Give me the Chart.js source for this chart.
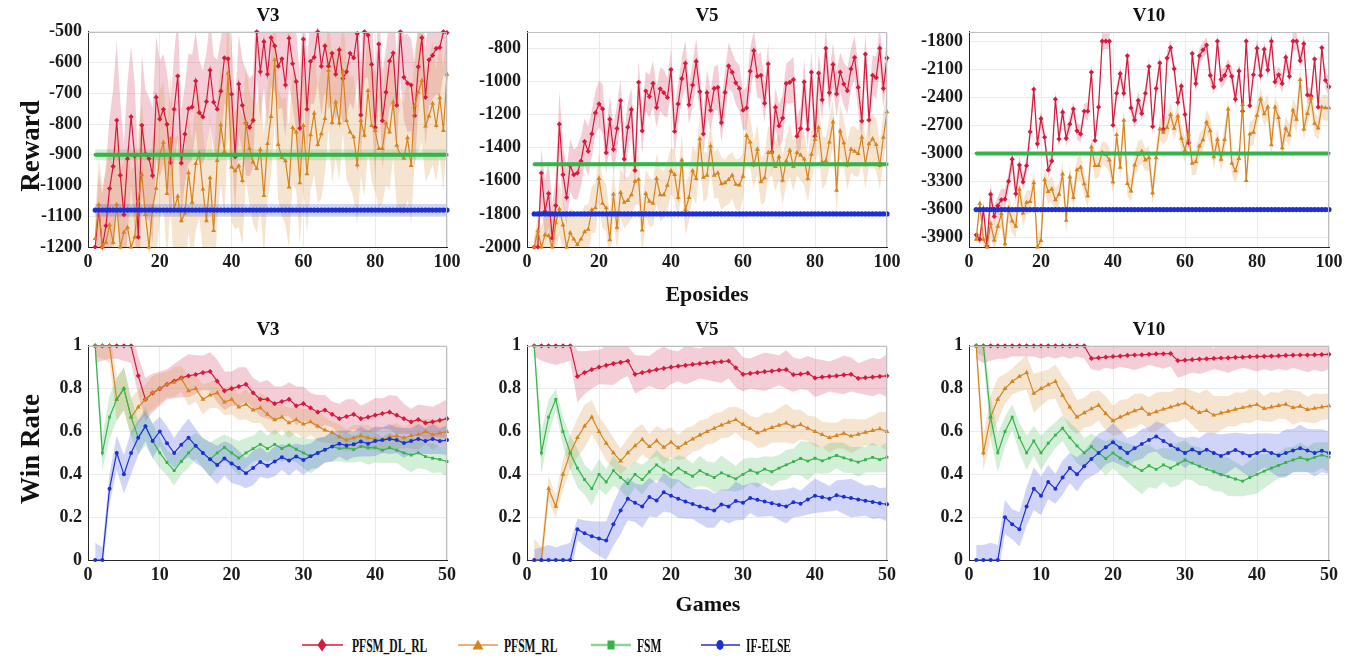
<!DOCTYPE html>
<html>
<head>
<meta charset="utf-8">
<script src="https://cdn.jsdelivr.net/npm/chart.js@4.4.1/dist/chart.umd.min.js"></script>
<style>
  body { margin: 0; background: #fff; width: 1365px; height: 660px; position: relative; overflow: hidden;
         font-family: 'Liberation Serif', 'Times New Roman', serif; font-weight: bold; color: #111; }
  canvas { position: absolute; }
  .t { position: absolute; transform: translate(-50%, -50%); white-space: nowrap; line-height: 1; }
  .ttl { font-size: 19px; }
  .ylab { font-size: 27px; }
  .xlab { font-size: 22px; }
  .leg { position: absolute; font-size: 19px; line-height: 1; white-space: nowrap;
         transform: translateY(-50%) scaleX(0.61); transform-origin: left center; }
</style>
</head>
<body>

<canvas id="rV3" width="459" height="267" style="left:8px;top:15px"></canvas>
<canvas id="rV5" width="460" height="267" style="left:447px;top:15px"></canvas>
<canvas id="rV10" width="460" height="267" style="left:889px;top:15px"></canvas>
<canvas id="wV3" width="459" height="266" style="left:8px;top:329px"></canvas>
<canvas id="wV5" width="460" height="266" style="left:447px;top:329px"></canvas>
<canvas id="wV10" width="460" height="266" style="left:889px;top:329px"></canvas>

<div class="t ttl" style="left:268px;top:14px">V3</div>
<div class="t ttl" style="left:707px;top:14px">V5</div>
<div class="t ttl" style="left:1149px;top:14px">V10</div>
<div class="t ttl" style="left:268px;top:328px">V3</div>
<div class="t ttl" style="left:707px;top:328px">V5</div>
<div class="t ttl" style="left:1149px;top:328px">V10</div>

<div class="t ylab" style="left:30px;top:146px;transform:translate(-50%,-50%) rotate(-90deg)">Reward</div>
<div class="t ylab" style="left:30px;top:449px;transform:translate(-50%,-50%) rotate(-90deg)">Win Rate</div>
<div class="t xlab" style="left:707px;top:294px">Eposides</div>
<div class="t xlab" style="left:708px;top:604px">Games</div>

<svg style="position:absolute;left:0;top:630px" width="1365" height="30">
  <line x1="302" y1="15" x2="343" y2="15" stroke="#d6193c" stroke-width="1.5"/>
  <polygon points="322,8.5 326.5,15 322,21.5 317.5,15" fill="#d6193c"/>
  <line x1="458" y1="15" x2="498" y2="15" stroke="#e6b377" stroke-width="2"/>
  <polygon points="478,9.5 483.5,19.5 472.5,19.5" fill="#d5841f"/>
  <line x1="591" y1="15" x2="631" y2="15" stroke="#8ad594" stroke-width="2.5"/>
  <rect x="607.5" y="10.5" width="7" height="9" fill="#37b34a"/>
  <line x1="701" y1="15" x2="740" y2="15" stroke="#1c30d4" stroke-width="1.5"/>
  <ellipse cx="720" cy="15" rx="3.6" ry="5" fill="#1c30d4"/>
</svg>
<div class="leg" style="left:352px;top:645px">PFSM_DL_RL</div>
<div class="leg" style="left:504px;top:645px">PFSM_RL</div>
<div class="leg" style="left:637px;top:645px">FSM</div>
<div class="leg" style="left:746px;top:645px">IF-ELSE</div>

<script>
// ---- axes / categories ----
const topEpisodes = [];
for (let e = 2; e <= 100; e++) topEpisodes.push(e);
const games = [];
for (let g = 1; g <= 50; g++) games.push(g);

const topXTicks = [0, 20, 40, 60, 80, 100];
const bottomXTicks = [0, 10, 20, 30, 40, 50];
const winRateTicks = [0, 0.2, 0.4, 0.6, 0.8, 1];
const rewardTicksV3 = [-1200, -1100, -1000, -900, -800, -700, -600, -500];
const rewardTicksV5 = [-2000, -1800, -1600, -1400, -1200, -1000, -800];
const rewardTicksV10 = [-3900, -3600, -3300, -3000, -2700, -2400, -2100, -1800];
const rewardRangeV3 = [-1200, -500];
const rewardRangeV5 = [-2000, -700];
const rewardRangeV10 = [-4000, -1700];

// ---- reward, episodes 2..100 ----
const dlrlRewardV3 = [-1200,-1079,-1200,-1131,-1010,-938,-788,-967,-1095,
  -913,-776,-904,-1168,-804,-898,-913,-968,-713,-784,
  -752,-801,-925,-752,-644,-927,-833,-750,-745,-660,
  -763,-777,-727,-625,-729,-752,-693,-585,-588,-703,
  -906,-670,-739,-797,-811,-788,-500,-630,-532,-638,
  -519,-546,-612,-588,-673,-521,-604,-662,-814,-524,
  -752,-596,-583,-500,-612,-546,-612,-570,-638,-559,
  -652,-630,-570,-585,-506,-771,-500,-511,-606,-811,
  -540,-789,-697,-595,-569,-739,-500,-648,-667,-673,
  -773,-614,-519,-713,-591,-577,-554,-551,-500,-503];
const dlrlRewardSpreadV3 = [60,120,170,200,230,250,260,240,230,
  250,230,240,220,230,210,200,220,200,190,
  180,170,190,180,200,170,160,180,170,160,
  170,150,160,170,150,160,170,150,160,170,
  180,160,150,170,160,150,140,160,150,170,
  160,150,140,160,170,150,140,160,170,150,
  160,140,150,170,160,150,140,160,150,170,
  150,140,160,170,150,160,150,140,160,170,
  150,160,140,150,170,160,150,140,160,150,
  170,150,140,160,150,140,150,160,140,150];
const rlRewardV3 = [-1173,-1062,-1200,-1185,-1128,-1185,-1062,-1200,-1152,
  -1136,-1200,-1168,-1049,-965,-1095,-1200,-1070,-1009,-901,
  -860,-1026,-848,-1077,-1035,-1115,-1090,-959,-1055,-929,
  -895,-1012,-1115,-975,-1147,-919,-803,-890,-634,-940,
  -952,-936,-984,-795,-880,-924,-945,-884,-1033,-864,
  -776,-591,-867,-909,-920,-1005,-812,-826,-991,-805,
  -962,-835,-765,-867,-832,-782,-625,-795,-729,-797,
  -627,-789,-826,-842,-933,-789,-837,-691,-805,-821,
  -880,-880,-797,-826,-729,-869,-901,-912,-845,-935,
  -740,-697,-659,-807,-774,-733,-805,-715,-821,-638];
const rlRewardSpreadV3 = [80,150,200,230,250,240,260,250,230,
  240,250,230,220,240,230,250,220,230,210,
  200,220,210,230,200,220,210,190,200,220,
  210,200,190,210,220,200,190,210,200,180,
  190,200,210,190,180,200,210,190,200,180,
  190,200,180,190,210,200,180,190,200,210,
  190,180,200,190,210,180,190,200,180,190,
  200,190,180,200,190,180,200,190,180,200,
  190,180,200,190,180,200,190,180,200,190,
  180,190,200,180,190,200,180,190,200,180];

const dlrlRewardV5 = [-2000,-2000,-1553,-1784,-1677,-1947,-1750,-1258,-1563,
  -1701,-1508,-1563,-1553,-1481,-1363,-1422,-1317,-1190,-1136,
  -1166,-1430,-1229,-1410,-1284,-1115,-1469,-1276,-1170,-1538,
  -1005,-1298,-1058,-1091,-1012,-1158,-1044,-1068,-1097,-928,
  -1302,-1136,-983,-890,-1140,-1022,-879,-1062,-1317,-1068,
  -1174,-1042,-1036,-1249,-1066,-906,-944,-1008,-1042,-1174,
  -1160,-938,-814,-969,-963,-1131,-894,-1426,-1156,-1268,
  -1221,-1012,-1005,-989,-1331,-1284,-1003,-1288,-944,-1331,
  -950,-1111,-800,-1068,-898,-1075,-944,-1016,-1056,-924,
  -855,-1036,-1239,-835,-1233,-963,-977,-800,-1042,-859];
const dlrlRewardSpreadV5 = [60,100,150,180,200,200,180,200,180,
  170,160,150,160,150,140,150,140,130,140,
  150,130,140,150,140,130,140,150,130,140,
  130,140,120,130,140,120,130,140,120,130,
  140,120,130,140,120,130,140,120,130,140,
  120,130,140,120,130,140,120,130,140,120,
  130,140,120,130,140,120,130,140,120,130,
  140,120,130,140,120,130,140,120,130,140,
  120,130,140,120,130,140,120,130,140,120,
  130,140,120,130,140,120,130,140,120,130];
const rlRewardV5 = [-2000,-1902,-2000,-1927,-1933,-2000,-1854,-1770,-1868,
  -2000,-1914,-1953,-1986,-1953,-1908,-1894,-1776,-1764,-1587,
  -1737,-1764,-1957,-1681,-1882,-1671,-1730,-1720,-1685,-1603,
  -1593,-1898,-1677,-1724,-1737,-1587,-1685,-1685,-1628,-1540,
  -1563,-1701,-1475,-1776,-1701,-1540,-1587,-1347,-1579,-1567,
  -1390,-1567,-1553,-1618,-1612,-1593,-1567,-1622,-1626,-1573,
  -1327,-1367,-1505,-1410,-1606,-1583,-1430,-1430,-1515,-1455,
  -1597,-1481,-1416,-1515,-1430,-1445,-1469,-1587,-1441,-1351,
  -1278,-1489,-1479,-1367,-1245,-1658,-1300,-1371,-1505,-1410,
  -1422,-1436,-1337,-1501,-1377,-1347,-1382,-1509,-1337,-1184];
const rlRewardSpreadV5 = [50,90,120,140,150,160,170,160,150,
  160,150,170,160,150,160,150,140,150,160,
  150,140,160,150,140,150,160,140,150,140,
  150,160,140,150,140,150,160,140,150,140,
  150,140,160,150,140,150,160,140,150,140,
  150,140,150,160,140,150,140,150,160,140,
  150,160,140,150,140,150,160,140,150,140,
  150,140,160,150,140,150,160,140,150,140,
  150,160,140,150,140,150,160,140,150,140,
  150,140,160,150,140,150,160,140,150,140];

const dlrlRewardV10 = [-3872,-3918,-3597,-3990,-3437,-3674,-3559,-3496,-3489,
  -3298,-3061,-3430,-3124,-3305,-3131,-2768,-2315,-2897,-2629,
  -2827,-3176,-3082,-2420,-2845,-2559,-2838,-2688,-2525,-2758,
  -2793,-2549,-2549,-2131,-2862,-2504,-1800,-1800,-1800,-2699,
  -2357,-2148,-2357,-1957,-2514,-2643,-2434,-2573,-2357,-2072,
  -2713,-2305,-2033,-2740,-1981,-1870,-2096,-2455,-2281,-2584,
  -2887,-1932,-2253,-1957,-1894,-1842,-2166,-2288,-1800,-2211,
  -2166,-2068,-2176,-2420,-2120,-2549,-1800,-2490,-2159,-1877,
  -2166,-1887,-2107,-1800,-2235,-2159,-2253,-1974,-2176,-1800,
  -1800,-2009,-1828,-2375,-2385,-1992,-2504,-1870,-2218,-2288];
const dlrlRewardSpreadV10 = [40,60,80,100,120,110,100,120,110,
  100,110,120,100,90,100,110,120,100,90,
  100,90,80,90,100,80,90,100,80,90,
  90,80,100,90,80,90,100,80,90,100,
  90,80,100,90,80,90,100,80,90,100,
  90,80,100,90,80,90,100,80,90,100,
  90,80,100,90,80,90,100,80,90,100,
  90,80,100,90,80,90,100,80,90,100,
  90,80,100,90,80,90,100,80,90,100,
  90,80,100,90,80,90,100,80,90,100];
const rlRewardV10 = [-3918,-3535,-3918,-4000,-3750,-3925,-3778,-3646,-3966,
  -3583,-3723,-3778,-3385,-3639,-3524,-3514,-3315,-4000,-3932,
  -3281,-3409,-3381,-3496,-3437,-3221,-3716,-3253,-3472,-3176,
  -3148,-3326,-3454,-2932,-3131,-3131,-2991,-3012,-3071,-3305,
  -2800,-3148,-2646,-3322,-3402,-3124,-3009,-2977,-3071,-3047,
  -3420,-3047,-2740,-2775,-2723,-2584,-2733,-2601,-2838,-2967,
  -2793,-3106,-3089,-2922,-2855,-2664,-2758,-3037,-2852,-3064,
  -2852,-2525,-3106,-3186,-3054,-2479,-3291,-2793,-2775,-2594,
  -2420,-2577,-2504,-2908,-2504,-2618,-2939,-2733,-2803,-2538,
  -2636,-2211,-2740,-2573,-2409,-2678,-2730,-2504,-2514,-2514];
const rlRewardSpreadV10 = [60,90,110,130,140,130,120,140,130,
  140,130,120,130,140,130,120,130,140,130,
  120,130,140,130,120,130,140,130,120,130,
  140,130,120,130,140,130,120,130,140,130,
  120,130,140,130,120,130,140,130,120,130,
  140,130,120,130,140,130,120,130,140,130,
  120,130,140,130,120,130,140,130,120,130,
  140,130,120,130,140,130,120,130,140,130,
  120,130,140,130,120,130,140,130,120,130,
  140,130,120,130,140,130,120,130,140,130];

// fixed-policy baselines are flat over all episodes (V3, V5, V10)
const fsmReward = [-900, -1500, -3000];
const fsmRewardSpread = [18, 8, 12];
const ifelseReward = [-1080, -1800, -3600];
const ifelseRewardSpread = [20, 8, 10];

// ---- win rate, games 1..50 ----
const dlrlWinV3 = [1,1,1,1,1,1,0.86,0.75,0.78,0.80,
  0.82,0.835,0.85,0.86,0.866,0.875,0.88,0.835,0.79,0.80,
  0.81,0.82,0.78,0.75,0.75,0.73,0.74,0.75,0.72,0.73,
  0.71,0.69,0.70,0.68,0.66,0.67,0.68,0.66,0.667,0.676,
  0.684,0.69,0.676,0.66,0.645,0.656,0.64,0.645,0.652,0.66];
const dlrlWinSpreadV3 = [0.08,0.07,0.06,0.06,0.07,0.08,0.09,0.1,0.09,0.08,
  0.07,0.08,0.09,0.1,0.09,0.08,0.09,0.1,0.09,0.08,
  0.09,0.08,0.07,0.08,0.09,0.08,0.07,0.08,0.09,0.08,
  0.07,0.08,0.07,0.06,0.07,0.08,0.07,0.06,0.07,0.08,
  0.07,0.08,0.09,0.07,0.06,0.07,0.08,0.07,0.08,0.09];
const rlWinV3 = [1,1,1,0.75,0.8,0.667,0.714,0.75,0.78,0.80,
  0.82,0.83,0.846,0.79,0.80,0.75,0.77,0.78,0.737,0.75,
  0.714,0.727,0.70,0.71,0.68,0.654,0.667,0.64,0.655,0.635,
  0.645,0.625,0.606,0.595,0.575,0.56,0.57,0.58,0.57,0.565,
  0.56,0.575,0.58,0.57,0.58,0.585,0.6,0.585,0.593,0.60];
const rlWinSpreadV3 = [0.05,0.06,0.08,0.1,0.1,0.09,0.08,0.07,0.08,0.07,
  0.06,0.07,0.06,0.07,0.06,0.07,0.06,0.07,0.06,0.07,
  0.06,0.07,0.06,0.07,0.08,0.07,0.06,0.07,0.06,0.07,
  0.06,0.07,0.06,0.05,0.06,0.05,0.06,0.05,0.06,0.05,
  0.06,0.05,0.06,0.05,0.06,0.07,0.06,0.07,0.06,0.07];
const fsmWinV3 = [1,0.5,0.667,0.75,0.8,0.667,0.571,0.625,0.556,0.5,
  0.455,0.417,0.46,0.5,0.533,0.5,0.47,0.5,0.526,0.5,
  0.476,0.5,0.52,0.54,0.52,0.54,0.52,0.536,0.517,0.5,
  0.484,0.5,0.515,0.53,0.52,0.525,0.515,0.53,0.525,0.525,
  0.513,0.524,0.513,0.5,0.49,0.5,0.483,0.475,0.47,0.46];
const fsmWinSpreadV3 = [0.05,0.08,0.1,0.1,0.1,0.09,0.08,0.09,0.08,0.07,
  0.06,0.07,0.06,0.07,0.06,0.07,0.08,0.07,0.06,0.07,
  0.08,0.07,0.06,0.07,0.06,0.07,0.06,0.07,0.06,0.07,
  0.08,0.07,0.06,0.07,0.06,0.07,0.06,0.07,0.08,0.07,
  0.06,0.07,0.06,0.07,0.08,0.07,0.06,0.07,0.06,0.07];
const ifelseWinV3 = [0,0,0.333,0.5,0.4,0.5,0.571,0.625,0.556,0.6,
  0.545,0.5,0.538,0.571,0.533,0.5,0.47,0.444,0.474,0.45,
  0.43,0.405,0.43,0.458,0.44,0.46,0.48,0.464,0.483,0.467,
  0.484,0.5,0.515,0.53,0.543,0.535,0.54,0.553,0.543,0.555,
  0.56,0.565,0.56,0.546,0.555,0.565,0.555,0.565,0.555,0.56];
const ifelseWinSpreadV3 = [0.08,0.06,0.07,0.08,0.09,0.1,0.08,0.07,0.08,0.07,
  0.08,0.07,0.08,0.09,0.08,0.07,0.08,0.09,0.08,0.09,
  0.08,0.07,0.08,0.07,0.06,0.07,0.06,0.07,0.06,0.07,
  0.06,0.07,0.06,0.07,0.06,0.07,0.06,0.07,0.06,0.07,
  0.06,0.07,0.06,0.07,0.06,0.07,0.06,0.07,0.06,0.07];

const dlrlWinV5 = [1,1,1,1,1,1,0.857,0.875,0.889,0.9,
  0.909,0.917,0.923,0.929,0.867,0.875,0.882,0.889,0.895,0.9,
  0.905,0.909,0.913,0.917,0.92,0.923,0.926,0.929,0.897,0.867,
  0.871,0.875,0.879,0.882,0.886,0.889,0.865,0.868,0.872,0.85,
  0.854,0.857,0.86,0.864,0.867,0.848,0.851,0.854,0.857,0.86];
const dlrlWinSpreadV5 = [0.05,0.07,0.08,0.09,0.08,0.07,0.12,0.1,0.09,0.08,
  0.09,0.1,0.08,0.07,0.09,0.08,0.07,0.09,0.1,0.08,
  0.07,0.09,0.08,0.07,0.08,0.09,0.1,0.08,0.09,0.08,
  0.07,0.08,0.09,0.08,0.07,0.09,0.08,0.07,0.08,0.09,
  0.08,0.07,0.08,0.09,0.08,0.07,0.08,0.09,0.08,0.1];
const rlWinV5 = [0,0,0.333,0.25,0.4,0.5,0.571,0.625,0.667,0.6,
  0.545,0.5,0.462,0.5,0.533,0.5625,0.529,0.556,0.526,0.55,
  0.524,0.545,0.565,0.583,0.6,0.615,0.63,0.643,0.655,0.633,
  0.613,0.594,0.606,0.618,0.629,0.639,0.622,0.632,0.615,0.6,
  0.585,0.571,0.581,0.591,0.578,0.587,0.596,0.604,0.612,0.6];
const rlWinSpreadV5 = [0.1,0.06,0.06,0.05,0.07,0.08,0.09,0.1,0.08,0.07,
  0.08,0.07,0.06,0.07,0.08,0.07,0.06,0.07,0.08,0.07,
  0.06,0.07,0.06,0.07,0.06,0.07,0.06,0.07,0.06,0.07,
  0.06,0.07,0.08,0.07,0.08,0.09,0.08,0.07,0.06,0.07,
  0.06,0.07,0.06,0.07,0.08,0.07,0.06,0.07,0.08,0.09];
const fsmWinV5 = [1,0.5,0.667,0.75,0.6,0.5,0.429,0.375,0.333,0.4,
  0.364,0.417,0.385,0.357,0.4,0.375,0.412,0.444,0.421,0.4,
  0.429,0.409,0.391,0.417,0.4,0.385,0.407,0.393,0.379,0.4,
  0.419,0.406,0.424,0.412,0.429,0.444,0.459,0.474,0.462,0.475,
  0.463,0.476,0.488,0.477,0.467,0.457,0.468,0.479,0.469,0.48];
const fsmWinSpreadV5 = [0.03,0.1,0.08,0.05,0.07,0.08,0.09,0.07,0.08,0.07,
  0.06,0.07,0.06,0.07,0.06,0.07,0.06,0.07,0.06,0.07,
  0.06,0.07,0.06,0.07,0.06,0.07,0.08,0.07,0.06,0.07,
  0.06,0.07,0.06,0.07,0.06,0.07,0.06,0.08,0.09,0.07,
  0.06,0.07,0.06,0.07,0.06,0.07,0.06,0.07,0.06,0.07];
const ifelseWinV5 = [0,0,0,0,0,0,0.143,0.125,0.111,0.1,
  0.091,0.167,0.231,0.286,0.267,0.25,0.294,0.278,0.316,0.3,
  0.286,0.273,0.261,0.25,0.24,0.231,0.259,0.25,0.276,0.267,
  0.29,0.281,0.273,0.265,0.257,0.25,0.27,0.263,0.282,0.3,
  0.293,0.286,0.302,0.295,0.289,0.283,0.277,0.271,0.265,0.26];
const ifelseWinSpreadV5 = [0.05,0.06,0.07,0.06,0.07,0.08,0.05,0.06,0.07,0.08,
  0.09,0.1,0.11,0.1,0.09,0.1,0.09,0.08,0.09,0.08,
  0.09,0.08,0.07,0.08,0.09,0.08,0.07,0.08,0.09,0.08,
  0.07,0.08,0.07,0.06,0.07,0.08,0.07,0.06,0.07,0.08,
  0.07,0.06,0.07,0.08,0.09,0.08,0.07,0.08,0.07,0.08];

const dlrlWinV10 = [1,1,1,1,1,1,1,1,1,1,
  1,1,1,1,1,1,0.941,0.944,0.947,0.95,
  0.952,0.955,0.957,0.958,0.96,0.962,0.963,0.964,0.931,0.933,
  0.935,0.938,0.939,0.941,0.943,0.944,0.946,0.947,0.949,0.95,
  0.951,0.952,0.953,0.955,0.956,0.957,0.957,0.958,0.959,0.96];
const dlrlWinSpreadV10 = [0.06,0.08,0.07,0.06,0.06,0.05,0.05,0.05,0.05,0.06,
  0.05,0.06,0.05,0.06,0.05,0.06,0.05,0.06,0.05,0.06,
  0.05,0.06,0.07,0.06,0.05,0.06,0.07,0.06,0.08,0.07,
  0.06,0.07,0.06,0.05,0.06,0.07,0.06,0.05,0.06,0.07,
  0.06,0.07,0.06,0.07,0.06,0.07,0.08,0.07,0.08,0.07];
const rlWinV10 = [1,0.5,0.667,0.75,0.8,0.833,0.857,0.875,0.778,0.8,
  0.818,0.833,0.769,0.714,0.667,0.6875,0.706,0.722,0.684,0.65,
  0.667,0.682,0.696,0.708,0.68,0.692,0.704,0.714,0.724,0.733,
  0.71,0.688,0.697,0.676,0.686,0.694,0.703,0.711,0.718,0.725,
  0.707,0.714,0.721,0.727,0.711,0.717,0.702,0.708,0.714,0.72];
const rlWinSpreadV10 = [0.05,0.08,0.1,0.1,0.07,0.06,0.07,0.08,0.09,0.08,
  0.07,0.08,0.09,0.1,0.08,0.07,0.08,0.07,0.08,0.07,
  0.08,0.07,0.08,0.07,0.08,0.09,0.08,0.07,0.08,0.07,
  0.08,0.09,0.1,0.09,0.08,0.07,0.08,0.07,0.08,0.07,
  0.06,0.07,0.06,0.07,0.08,0.07,0.06,0.07,0.06,0.06];
const fsmWinV10 = [1,1,0.667,0.5,0.6,0.667,0.571,0.5,0.556,0.5,
  0.545,0.583,0.615,0.571,0.533,0.5,0.529,0.5,0.474,0.5,
  0.476,0.455,0.435,0.417,0.44,0.423,0.444,0.429,0.448,0.467,
  0.452,0.438,0.424,0.412,0.4,0.389,0.378,0.368,0.385,0.4,
  0.415,0.429,0.442,0.455,0.467,0.478,0.468,0.479,0.49,0.48];
const fsmWinSpreadV10 = [0.03,0.05,0.1,0.09,0.07,0.06,0.07,0.08,0.07,0.08,
  0.07,0.06,0.06,0.07,0.08,0.07,0.06,0.07,0.08,0.07,
  0.08,0.09,0.1,0.11,0.1,0.09,0.08,0.09,0.1,0.09,
  0.08,0.09,0.08,0.09,0.08,0.09,0.08,0.07,0.08,0.09,
  0.08,0.07,0.06,0.07,0.06,0.07,0.06,0.07,0.06,0.07];
const ifelseWinV10 = [0,0,0,0,0.2,0.167,0.143,0.25,0.333,0.3,
  0.364,0.333,0.385,0.429,0.4,0.4375,0.471,0.5,0.526,0.55,
  0.524,0.5,0.522,0.542,0.56,0.577,0.556,0.536,0.517,0.5,
  0.516,0.5,0.515,0.5,0.486,0.5,0.514,0.5,0.487,0.5,
  0.512,0.5,0.488,0.5,0.511,0.522,0.511,0.5,0.51,0.5];
const ifelseWinSpreadV10 = [0.07,0.07,0.08,0.07,0.08,0.07,0.08,0.09,0.1,0.09,
  0.08,0.07,0.08,0.07,0.08,0.07,0.08,0.09,0.08,0.09,
  0.08,0.07,0.06,0.07,0.06,0.07,0.08,0.07,0.06,0.07,
  0.06,0.07,0.08,0.09,0.1,0.09,0.08,0.09,0.1,0.09,
  0.08,0.09,0.1,0.11,0.1,0.11,0.1,0.11,0.1,0.1];

// ---- styles ----
const FONT_FAMILY = "'Liberation Serif', 'Times New Roman', serif";
const STYLE = {
  dlrl:   { color: '#d6193c', band: 'rgba(214,75,105,0.27)', pointStyle: 'rectRot', radius: 2.6, width: 1.2, order: 3 },
  rl:     { color: '#d5841f', band: 'rgba(222,165,95,0.3)', pointStyle: 'triangle', radius: 2.8, width: 1.2, order: 2 },
  fsm:    { color: '#37b34a', band: 'rgba(70,190,90,0.24)', pointStyle: 'rect', radius: 2, width: 1.2, order: 1 },
  ifelse: { color: '#1c30d4', band: 'rgba(60,80,225,0.24)', pointStyle: 'circle', radius: 2, width: 1.2, order: 0 },
};
const STYLE_TOP_FSM = { ...STYLE.fsm, width: 4, radius: 2 };
const STYLE_TOP_IFELSE = { ...STYLE.ifelse, width: 2, radius: 2.6 };

// gray top / right frame like a MATLAB box
const boxPlugin = {
  id: 'box',
  afterDraw(chart) {
    const { ctx, chartArea: a } = chart;
    ctx.save();
    ctx.strokeStyle = '#bdbdbd';
    ctx.lineWidth = 1;
    ctx.beginPath();
    ctx.moveTo(a.left, Math.round(a.top) + 0.5);
    ctx.lineTo(Math.round(a.right) - 0.5, Math.round(a.top) + 0.5);
    ctx.lineTo(Math.round(a.right) - 0.5, a.bottom);
    ctx.stroke();
    ctx.restore();
  }
};

function seriesDatasets(xs, vals, spread, st) {
  return [
    { data: xs.map((x, i) => ({ x, y: vals[i] + spread[i] })), borderWidth: 0, pointRadius: 0, fill: false, order: 10 + st.order },
    { data: xs.map((x, i) => ({ x, y: vals[i] - spread[i] })), borderWidth: 0, pointRadius: 0, fill: '-1',
      backgroundColor: st.band, order: 10 + st.order },
    { data: xs.map((x, i) => ({ x, y: vals[i] })), borderColor: st.color, backgroundColor: st.color,
      borderWidth: st.width, pointStyle: st.pointStyle, pointRadius: st.radius, pointBorderWidth: 0,
      pointBackgroundColor: st.color, fill: false, order: st.order, clip: 6 },
  ];
}

function makeChart(id, xs, xMax, xTicks, yRange, yTicks, series) {
  const tickFont = { family: FONT_FAMILY, size: 18, weight: 'bold' };
  let datasets = [];
  series.forEach(s => { datasets = datasets.concat(seriesDatasets(xs, s[0], s[1], s[2])); });
  new Chart(document.getElementById(id), {
    type: 'line',
    data: { datasets },
    plugins: [boxPlugin],
    options: {
      animation: false,
      responsive: false,
      devicePixelRatio: 1,
      layout: { autoPadding: false, padding: { top: 12, right: 20, left: 0, bottom: 0 } },
      elements: { line: { tension: 0 } },
      plugins: { legend: { display: false }, tooltip: { enabled: false } },
      scales: {
        x: {
          type: 'linear', min: 0, max: xMax,
          afterBuildTicks: s => { s.ticks = xTicks.map(v => ({ value: v })); },
          afterFit: s => { s.height = 35; },
          grid: { color: '#ebebeb', drawTicks: false },
          border: { color: '#262626', width: 1 },
          ticks: { font: tickFont, color: '#1a1a1a', padding: 5, maxRotation: 0, autoSkip: false }
        },
        y: {
          min: yRange[0], max: yRange[1],
          afterBuildTicks: s => { s.ticks = yTicks.map(v => ({ value: v })); },
          afterFit: s => { s.width = 80; },
          grid: { color: '#ebebeb', drawTicks: false },
          border: { color: '#262626', width: 1 },
          ticks: { font: tickFont, color: '#1a1a1a', padding: 6, autoSkip: false, callback: v => String(v) }
        }
      }
    }
  });
}

const flat = (xs, v) => xs.map(() => v);

makeChart('rV3', topEpisodes, 100, topXTicks, rewardRangeV3, rewardTicksV3, [
  [dlrlRewardV3, dlrlRewardSpreadV3, STYLE.dlrl],
  [rlRewardV3, rlRewardSpreadV3, STYLE.rl],
  [flat(topEpisodes, fsmReward[0]), flat(topEpisodes, fsmRewardSpread[0]), STYLE_TOP_FSM],
  [flat(topEpisodes, ifelseReward[0]), flat(topEpisodes, ifelseRewardSpread[0]), STYLE_TOP_IFELSE],
]);
makeChart('rV5', topEpisodes, 100, topXTicks, rewardRangeV5, rewardTicksV5, [
  [dlrlRewardV5, dlrlRewardSpreadV5, STYLE.dlrl],
  [rlRewardV5, rlRewardSpreadV5, STYLE.rl],
  [flat(topEpisodes, fsmReward[1]), flat(topEpisodes, fsmRewardSpread[1]), STYLE_TOP_FSM],
  [flat(topEpisodes, ifelseReward[1]), flat(topEpisodes, ifelseRewardSpread[1]), STYLE_TOP_IFELSE],
]);
makeChart('rV10', topEpisodes, 100, topXTicks, rewardRangeV10, rewardTicksV10, [
  [dlrlRewardV10, dlrlRewardSpreadV10, STYLE.dlrl],
  [rlRewardV10, rlRewardSpreadV10, STYLE.rl],
  [flat(topEpisodes, fsmReward[2]), flat(topEpisodes, fsmRewardSpread[2]), STYLE_TOP_FSM],
  [flat(topEpisodes, ifelseReward[2]), flat(topEpisodes, ifelseRewardSpread[2]), STYLE_TOP_IFELSE],
]);

makeChart('wV3', games, 50, bottomXTicks, [0, 1], winRateTicks, [
  [dlrlWinV3, dlrlWinSpreadV3, STYLE.dlrl],
  [rlWinV3, rlWinSpreadV3, STYLE.rl],
  [fsmWinV3, fsmWinSpreadV3, STYLE.fsm],
  [ifelseWinV3, ifelseWinSpreadV3, STYLE.ifelse],
]);
makeChart('wV5', games, 50, bottomXTicks, [0, 1], winRateTicks, [
  [dlrlWinV5, dlrlWinSpreadV5, STYLE.dlrl],
  [rlWinV5, rlWinSpreadV5, STYLE.rl],
  [fsmWinV5, fsmWinSpreadV5, STYLE.fsm],
  [ifelseWinV5, ifelseWinSpreadV5, STYLE.ifelse],
]);
makeChart('wV10', games, 50, bottomXTicks, [0, 1], winRateTicks, [
  [dlrlWinV10, dlrlWinSpreadV10, STYLE.dlrl],
  [rlWinV10, rlWinSpreadV10, STYLE.rl],
  [fsmWinV10, fsmWinSpreadV10, STYLE.fsm],
  [ifelseWinV10, ifelseWinSpreadV10, STYLE.ifelse],
]);
</script>
</body>
</html>
